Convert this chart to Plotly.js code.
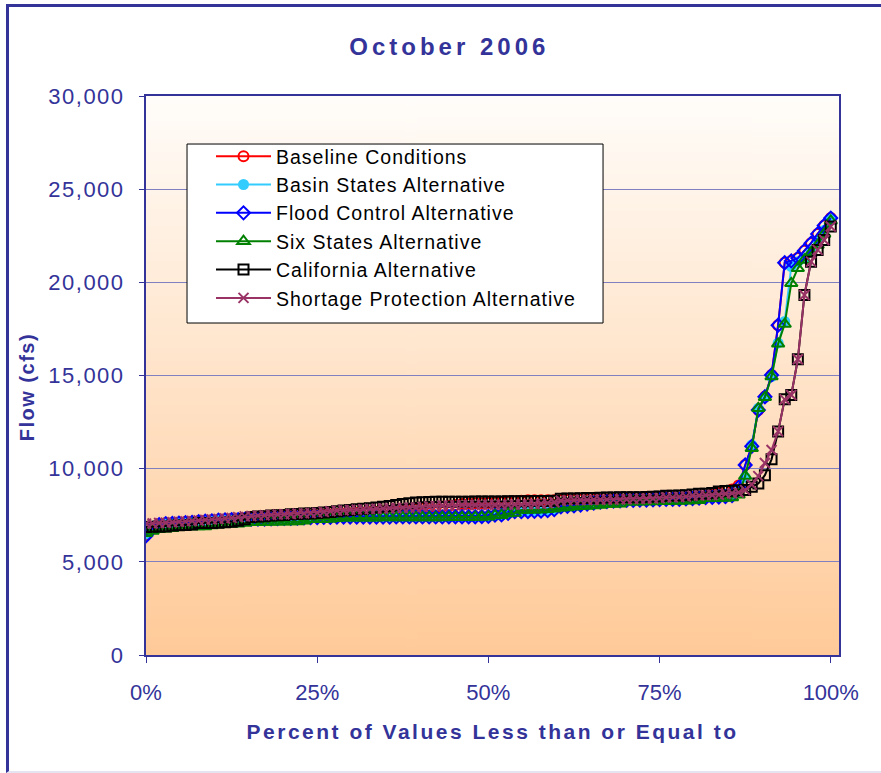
<!DOCTYPE html>
<html>
<head>
<meta charset="utf-8">
<script src="https://cdn.plot.ly/plotly-3.0.1.min.js"></script>
<style>
  html, body { margin: 0; padding: 0; background: #ffffff; }
  #wrap { position: relative; width: 881px; height: 773px; overflow: hidden; }
  #chart { position: absolute; left: 0; top: 0; width: 881px; height: 773px; }
  #frame { position: absolute; left: 6px; top: 4px; width: 900px; height: 764px;
           border-top: 3px solid #333399; border-left: 3px solid #333399;
           border-bottom: 2px solid #e4e4f2; pointer-events: none; }
  .gtitle { letter-spacing: 4px; }
  .xtitle { letter-spacing: 2.5px; }
  .annotation-text { letter-spacing: 1.5px; }
  .ytick text { letter-spacing: 1.5px; }
  .legendtext { letter-spacing: 1px; }
</style>
</head>
<body>
<div id="wrap"><div id="chart"></div><div id="frame"></div></div>
<script>
// Percent of values less than or equal to (105 ranked values)
const percentile = [
  0, 0.96, 1.92, 2.88, 3.85, 4.81, 5.77, 6.73, 7.69, 8.65,
  9.62, 10.58, 11.54, 12.50, 13.46, 14.42, 15.38, 16.35, 17.31, 18.27,
  19.23, 20.19, 21.15, 22.12, 23.08, 24.04, 25.00, 25.96, 26.92, 27.88,
  28.85, 29.81, 30.77, 31.73, 32.69, 33.65, 34.62, 35.58, 36.54, 37.50,
  38.46, 39.42, 40.38, 41.35, 42.31, 43.27, 44.23, 45.19, 46.15, 47.12,
  48.08, 49.04, 50.00, 50.96, 51.92, 52.88, 53.85, 54.81, 55.77, 56.73,
  57.69, 58.65, 59.62, 60.58, 61.54, 62.50, 63.46, 64.42, 65.38, 66.35,
  67.31, 68.27, 69.23, 70.19, 71.15, 72.12, 73.08, 74.04, 75.00, 75.96,
  76.92, 77.88, 78.85, 79.81, 80.77, 81.73, 82.69, 83.65, 84.62, 85.58,
  86.54, 87.50, 88.46, 89.42, 90.38, 91.35, 92.31, 93.27, 94.23, 95.19,
  96.15, 97.12, 98.08, 99.04, 100
];

const baselineConditions = [
  6450, 6800, 7000, 7050, 7070, 7100, 7120, 7150, 7180, 7200,
  7220, 7250, 7270, 7290, 7300, 7320, 7340, 7350, 7360, 7380,
  7400, 7420, 7440, 7450, 7470, 7480, 7500, 7520, 7540, 7560,
  7580, 7600, 7620, 7640, 7660, 7680, 7700, 7720, 7750, 7780,
  7800, 7830, 7860, 7900, 7930, 7960, 8000, 8050, 8100, 8120,
  8150, 8150, 8160, 8180, 8200, 8220, 8250, 8280, 8300, 8300,
  8300, 8310, 8310, 8320, 8320, 8330, 8330, 8340, 8340, 8350,
  8350, 8360, 8360, 8370, 8370, 8380, 8380, 8390, 8400, 8410,
  8420, 8430, 8450, 8470, 8500, 8550, 8600, 8700, 8800, 8880,
  9100, 10200, 11200, 13150, 13860, 15030, 17700, 21050, 21150, 21300,
  21700, 22100, 22600, 23050, 23450
];

const basinStatesAlternative = [
  6500, 6800, 6980, 7030, 7050, 7070, 7090, 7110, 7140, 7170,
  7190, 7230, 7240, 7250, 7260, 7270, 7280, 7290, 7300, 7300,
  7310, 7320, 7330, 7340, 7350, 7360, 7370, 7380, 7390, 7390,
  7390, 7400, 7400, 7400, 7400, 7400, 7400, 7400, 7400, 7400,
  7400, 7400, 7400, 7400, 7410, 7410, 7410, 7410, 7410, 7410,
  7410, 7420, 7430, 7500, 7510, 7600, 7680, 7690, 7700, 7700,
  7710, 7740, 7790, 7930, 7960, 7990, 8030, 8080, 8130, 8180,
  8220, 8250, 8270, 8290, 8290, 8300, 8310, 8320, 8330, 8340,
  8340, 8350, 8370, 8390, 8410, 8440, 8450, 8470, 8490, 8530,
  8900, 9540, 11270, 13240, 13830, 14940, 16750, 17900, 20850, 21100,
  21300, 21700, 22200, 22800, 23400
];

const floodControlAlternative = [
  6400, 6800, 7000, 7050, 7060, 7080, 7100, 7120, 7150, 7180,
  7200, 7240, 7250, 7260, 7270, 7280, 7290, 7300, 7300, 7310,
  7320, 7330, 7340, 7350, 7360, 7370, 7380, 7390, 7390, 7400,
  7400, 7400, 7400, 7400, 7400, 7400, 7400, 7400, 7410, 7410,
  7410, 7410, 7410, 7410, 7410, 7410, 7420, 7420, 7420, 7420,
  7420, 7430, 7440, 7510, 7520, 7600, 7690, 7690, 7700, 7710,
  7720, 7750, 7800, 7950, 7980, 8000, 8050, 8100, 8150, 8200,
  8230, 8260, 8280, 8300, 8300, 8310, 8320, 8330, 8340, 8350,
  8350, 8360, 8380, 8400, 8420, 8450, 8460, 8480, 8500, 8550,
  9000, 10200, 11200, 13150, 13860, 15030, 17700, 21050, 21150, 21300,
  21700, 22100, 22600, 23050, 23450
];

const sixStatesAlternative = [
  6530, 6650, 6750, 6780, 6800, 6850, 6880, 6890, 6890, 6900,
  6950, 7010, 7020, 7040, 7050, 7080, 7130, 7130, 7140, 7140,
  7150, 7150, 7160, 7170, 7200, 7280, 7280, 7290, 7300, 7340,
  7360, 7370, 7370, 7370, 7370, 7370, 7380, 7380, 7380, 7380,
  7380, 7380, 7380, 7380, 7380, 7380, 7390, 7390, 7390, 7390,
  7400, 7400, 7420, 7490, 7500, 7600, 7620, 7780, 7780, 7790,
  7800, 7820, 7850, 7900, 7920, 7950, 7980, 8000, 8020, 8050,
  8100, 8110, 8120, 8230, 8230, 8230, 8240, 8240, 8250, 8250,
  8260, 8270, 8280, 8290, 8300, 8410, 8410, 8420, 8430, 8450,
  8600, 9600, 11090, 13240, 13830, 14940, 16700, 17760, 19950, 20750,
  21200, 21600, 22000, 22600, 23300
];

const californiaAlternative = [
  6870, 6880, 6890, 6900, 6950, 6960, 6980, 7000, 7080, 7080,
  7090, 7100, 7120, 7150, 7200, 7280, 7400, 7430, 7450, 7480,
  7500, 7520, 7550, 7570, 7590, 7600, 7620, 7650, 7680, 7720,
  7750, 7780, 7820, 7850, 7880, 7920, 7950, 8000, 8050, 8100,
  8150, 8180, 8200, 8210, 8220, 8220, 8230, 8230, 8230, 8230,
  8240, 8240, 8240, 8240, 8240, 8250, 8250, 8250, 8250, 8260,
  8260, 8270, 8280, 8380, 8400, 8400, 8410, 8420, 8430, 8440,
  8450, 8450, 8460, 8460, 8470, 8470, 8480, 8490, 8500, 8540,
  8550, 8560, 8580, 8620, 8650, 8660, 8700, 8780, 8800, 8820,
  8840, 8850, 9030, 9200, 9650, 10500, 12000, 13720, 13950, 15870,
  19320, 21110, 21740, 22270, 23000
];

const shortageProtectionAlternative = [
  7050, 7060, 7080, 7100, 7120, 7150, 7170, 7200, 7220, 7250,
  7280, 7300, 7330, 7360, 7400, 7440, 7460, 7480, 7500, 7520,
  7540, 7550, 7570, 7590, 7600, 7620, 7640, 7680, 7720, 7750,
  7770, 7790, 7800, 7820, 7840, 7850, 7860, 7880, 7890, 7900,
  7910, 7920, 7950, 7980, 8000, 8020, 8030, 8040, 8050, 8050,
  8050, 8060, 8060, 8060, 8070, 8070, 8080, 8080, 8090, 8100,
  8120, 8150, 8200, 8280, 8300, 8310, 8320, 8320, 8330, 8330,
  8340, 8340, 8350, 8360, 8370, 8380, 8390, 8400, 8420, 8450,
  8460, 8480, 8500, 8550, 8560, 8580, 8590, 8600, 8650, 8680,
  8720, 8850, 9150, 9600, 10300, 11000, 12000, 13720, 13950, 15870,
  19320, 21110, 21740, 22270, 23000
];

const xTickVals = [0, 25, 50, 75, 100];
const xTickText = ['0%', '25%', '50%', '75%', '100%'];
const seriesNames = [
  'Baseline Conditions',
  'Basin States Alternative',
  'Flood Control Alternative',
  'Six States Alternative',
  'California Alternative',
  'Shortage Protection Alternative'
];

const FONT = 'Arial, "Liberation Sans", sans-serif';
const NAVY = '#333399';

function mk(name, y, color, symbol, size, lineW, markerFill) {
  return {
    type: 'scatter', mode: 'lines+markers', name: name,
    x: percentile, y: y,
    line: { color: color, width: 2 },
    marker: { symbol: symbol, size: size, color: markerFill || color,
              line: { color: color, width: lineW } }
  };
}

const traces = [
  mk(seriesNames[0], baselineConditions, '#FF0000', 'circle-open', 10, 2),
  mk(seriesNames[1], basinStatesAlternative, '#33CCFF', 'circle', 11, 0),
  mk(seriesNames[2], floodControlAlternative, '#0000FF', 'diamond-open', 10, 2),
  mk(seriesNames[3], sixStatesAlternative, '#008000', 'triangle-up-open', 11, 2),
  mk(seriesNames[4], californiaAlternative, '#000000', 'square-open', 10, 2),
  mk(seriesNames[5], shortageProtectionAlternative, '#993366', 'x-thin-open', 10, 2)
];

// vertical gradient for the plot background
const cv = document.createElement('canvas');
cv.width = 4; cv.height = 256;
const ctx = cv.getContext('2d');
const g = ctx.createLinearGradient(0, 0, 0, 256);
g.addColorStop(0, '#FFFDFA');
g.addColorStop(1, '#FFCA98');
ctx.fillStyle = g;
ctx.fillRect(0, 0, 4, 256);
const gradURL = cv.toDataURL('image/png');

const layout = {
  width: 881, height: 773,
  margin: { l: 146, r: 42, t: 96, b: 118 },
  paper_bgcolor: '#FFFFFF',
  plot_bgcolor: 'rgba(0,0,0,0)',
  font: { family: FONT, color: NAVY },
  showlegend: true,
  title: {
    text: 'October 2006',
    font: { family: FONT, size: 24, color: NAVY, weight: 'bold' },
    xref: 'container', x: 0.51, xanchor: 'center',
    yref: 'container', y: 0.94, yanchor: 'middle'
  },
  images: [{
    source: gradURL, xref: 'paper', yref: 'paper',
    x: 0, y: 1, sizex: 1, sizey: 1, xanchor: 'left', yanchor: 'top',
    sizing: 'stretch', layer: 'below'
  }],
  shapes: [{
    type: 'rect', xref: 'paper', yref: 'paper', layer: 'above',
    x0: 0.0592, x1: 0.6595, y0: 0.5939, y1: 0.9141,
    fillcolor: '#FFFFFF', line: { color: '#000000', width: 1 }
  }],
  annotations: [{
    text: 'Flow (cfs)', textangle: -90, showarrow: false,
    xref: 'paper', yref: 'paper', x: -0.1717, y: 0.479,
    xanchor: 'center', yanchor: 'middle',
    font: { family: FONT, size: 20, color: NAVY, weight: 'bold' }
  }],
  xaxis: {
    range: [0, 101.2], tickvals: xTickVals, ticktext: xTickText,
    showgrid: false, zeroline: false,
    showline: true, mirror: true, linecolor: NAVY, linewidth: 2,
    ticks: 'outside', ticklen: 6, tickcolor: NAVY, tickwidth: 1,
    tickfont: { family: FONT, size: 22, color: NAVY },
    ticklabelstandoff: 11,
    title: { text: 'Percent of Values Less than or Equal to',
             font: { family: FONT, size: 21, color: NAVY, weight: 'bold' },
             standoff: 20 }
  },
  yaxis: {
    range: [0, 30000], dtick: 5000, tickformat: ',',
    showgrid: true, gridcolor: '#8080C0', gridwidth: 1, zeroline: false,
    showline: true, mirror: true, linecolor: NAVY, linewidth: 2,
    ticks: 'outside', ticklen: 5, tickcolor: NAVY, tickwidth: 1,
    tickfont: { family: FONT, size: 22, color: NAVY },
    ticklabelstandoff: 10
  },
  legend: {
    x: 0.0938, y: 0.9267, xanchor: 'left', yanchor: 'top',
    bgcolor: 'rgba(0,0,0,0)', borderwidth: 0,
    font: { family: FONT, size: 19.5, color: '#000000' },
    itemwidth: 55, tracegroupgap: 0
  }
};

Plotly.newPlot('chart', traces, layout, { displayModeBar: false, staticPlot: true });
</script>
</body>
</html>
